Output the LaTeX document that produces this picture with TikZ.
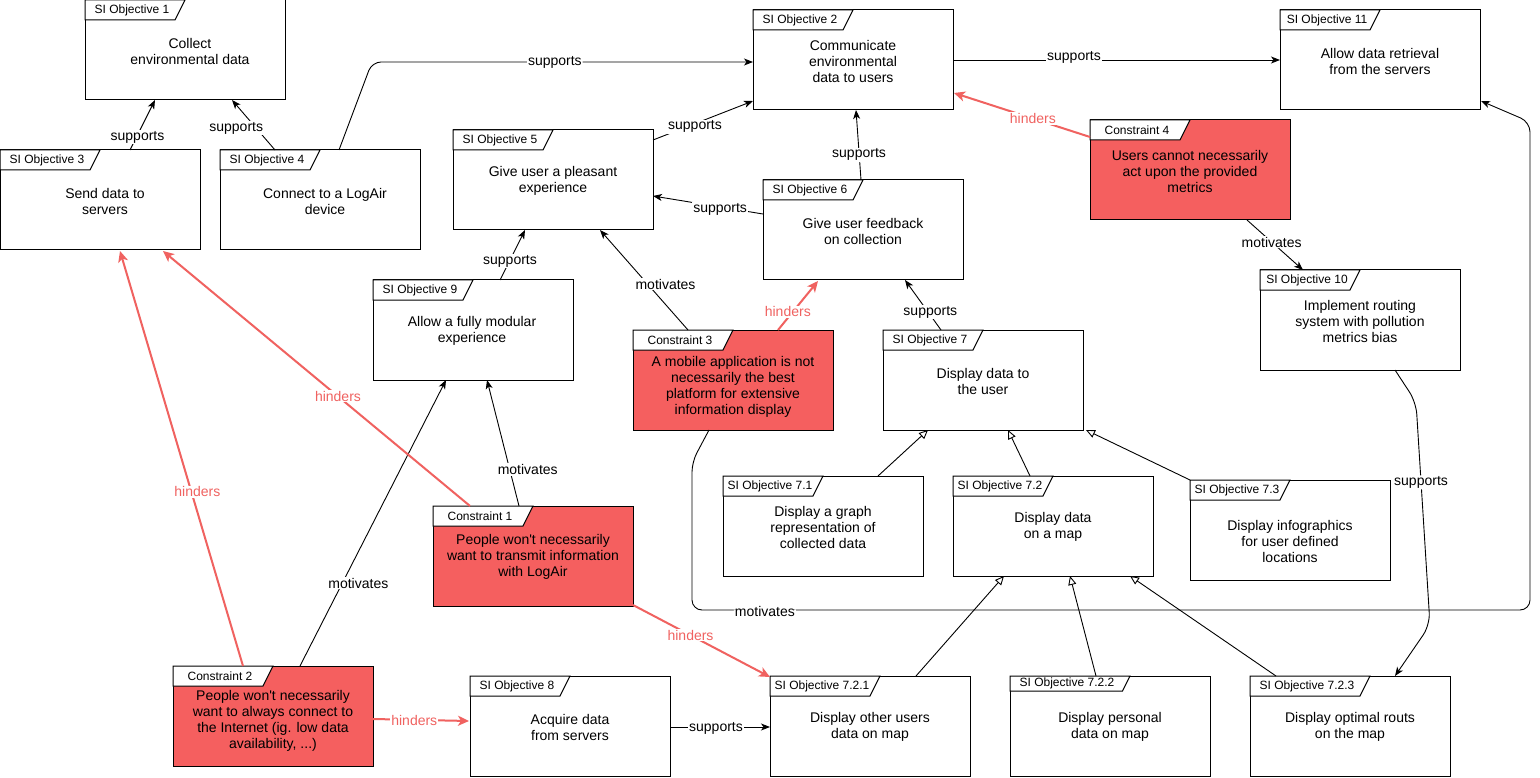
\documentclass[tikz,border=0pt]{standalone}
\usepackage{fontspec}
\setmainfont{Liberation Sans}[Ligatures=TeXOff]
\usetikzlibrary{arrows.meta,calc}
\definecolor{cred}{RGB}{245,95,95}
\definecolor{hred}{RGB}{240,98,96}
\newcommand{\mkbox}[7]{%
  \node[box, fill=#5] (#1) at (#2,#3) {};
  \draw[tabline] (#2,#3) -- ++(#6,0) -- ++(-#7/2,#7) -- (#2,#3+#7) -- cycle;
  \node[tabtxt] (#1-tab) at ($(#1.north west)+(#6/2-3,#7/2)$) {#4};
}
\begin{document}
\begin{tikzpicture}[x=1pt,y=-1pt,
  box/.style={draw, line width=1pt, minimum width=200pt, minimum height=100pt, anchor=north west, inner sep=0pt, outer sep=0pt},
  tabline/.style={draw, line width=1pt, fill=white},
  tabtxt/.style={font=\fontsize{12}{14}\selectfont, inner sep=0pt},
  txt/.style={font=\fontsize{14}{16}\selectfont, align=center, inner sep=0pt},
  lbl/.style={font=\fontsize{14}{16}\selectfont, fill=white, inner sep=1pt},
  rlbl/.style={lbl, text=hred},
  sup/.style={draw, line width=0.9pt, -{Stealth[length=9pt,width=7pt,inset=2.5pt]}},
  hin/.style={draw=hred, line width=2pt, -{Stealth[length=11pt,width=10pt,inset=3pt]}},
  gen/.style={draw, line width=0.9pt, -{Triangle[open,length=9pt,width=8pt,fill=white]}},
]
\useasboundingbox (0,0) rectangle (1540,778);
\fill[white] (0,0) rectangle (1540,778);

% boxes
\mkbox{o1}{85}{0}{SI Objective 1}{white}{100}{20}
\mkbox{o2}{753}{10}{SI Objective 2}{white}{100}{20}
\mkbox{o11}{1280}{10}{SI Objective 11}{white}{100}{20}
\mkbox{o3}{0}{150}{SI Objective 3}{white}{100}{20}
\mkbox{o4}{220}{150}{SI Objective 4}{white}{100}{20}
\mkbox{o5}{453}{130}{SI Objective 5}{white}{100}{20}
\mkbox{o6}{763}{180}{SI Objective 6}{white}{100}{20}
\mkbox{c4}{1090}{120}{Constraint 4}{cred}{100}{20}
\mkbox{o9}{373}{280}{SI Objective 9}{white}{100}{20}
\mkbox{c3}{633}{330}{Constraint 3}{cred}{100}{20}
\mkbox{o7}{883}{330}{SI Objective 7}{white}{100}{20}
\mkbox{o10}{1260}{270}{SI Objective 10}{white}{100}{20}
\mkbox{o71}{723}{476}{SI Objective 7.1}{white}{100}{20}
\mkbox{o72}{953}{476}{SI Objective 7.2}{white}{100}{20}
\mkbox{o73}{1190}{480}{SI Objective 7.3}{white}{100}{20}
\mkbox{c1}{433}{506}{Constraint 1}{cred}{100}{20}
\mkbox{c2}{173}{666}{Constraint 2}{cred}{100}{20}
\mkbox{o8}{470}{676}{SI Objective 8}{white}{100}{20}
\mkbox{o721}{770}{676}{SI Objective 7.2.1}{white}{110}{20}
\mkbox{o722}{1010}{676}{SI Objective 7.2.2}{white}{120}{15}
\mkbox{o723}{1250}{676}{SI Objective 7.2.3}{white}{120}{20}

% texts
\node[txt] (o1t) at ($(o1.north west)+(105,51)$) {Collect\\environmental data};
\node[txt] (o2t) at ($(o2.north west)+(100,51)$) {Communicate\\environmental\\data to users};
\node[txt] (o11t) at ($(o11.north west)+(100,51)$) {Allow data retrieval\\from the servers};
\node[txt] (o3t) at ($(o3.north west)+(105,51)$) {Send data to\\servers};
\node[txt] (o4t) at ($(o4.north west)+(105,51)$) {Connect to a LogAir\\device};
\node[txt] (o5t) at ($(o5.north west)+(100,51)$) {Give user a pleasant\\experience};
\node[txt] (o6t) at ($(o6.north west)+(100,51)$) {Give user feedback\\on collection};
\node[txt] (c4t) at ($(c4.north west)+(100,51)$) {Users cannot necessarily\\act upon the provided\\metrics};
\node[txt] (o9t) at ($(o9.north west)+(99,51)$) {Allow a fully modular\\experience};
\node[txt] (c3t) at ($(c3.north west)+(100,57)$) {A mobile application is not\\necessarily the best\\platform for extensive\\information display};
\node[txt] (o7t) at ($(o7.north west)+(100,51)$) {Display data to\\the user};
\node[txt] (o10t) at ($(o10.north west)+(100,51)$) {Implement routing\\system with pollution\\metrics bias};
\node[txt] (o71t) at ($(o71.north west)+(100,51)$) {Display a graph\\representation of\\collected data};
\node[txt] (o72t) at ($(o72.north west)+(100,51)$) {Display data\\on a map};
\node[txt] (o73t) at ($(o73.north west)+(100,61)$) {Display infographics\\for user defined\\locations};
\node[txt] (c1t) at ($(c1.north west)+(100,51)$) {People won't necessarily\\want to transmit information\\with LogAir};
\node[txt] (c2t) at ($(c2.north west)+(100,55)$) {People won't necessarily\\want to always connect to\\the Internet (ig. low data\\availability, ...)};
\node[txt] (o8t) at ($(o8.north west)+(100,51)$) {Acquire data\\from servers};
\node[txt] (o721t) at ($(o721.north west)+(100,51)$) {Display other users\\data on map};
\node[txt] (o722t) at ($(o722.north west)+(100,51)$) {Display personal\\data on map};
\node[txt] (o723t) at ($(o723.north west)+(100,51)$) {Display optimal routs\\on the map};

% supports
\draw[sup] ($(o3.north west)+(130,0)$) -- node[lbl,pos=0.3,yshift=-2pt]{supports} ($(o1.north west)+(70,100)$);
\draw[sup] ($(o4.north west)+(55,0)$) -- node[lbl,pos=0.46,xshift=-19pt,yshift=-1pt]{supports} ($(o1.north west)+(147,100)$);
\draw[sup, rounded corners=9pt] ($(o4.north west)+(119,0)$) -- ($(o4.north west)+(152,-88)$) -- node[lbl,pos=0.48]{supports} ($(o2.north west)+(0,52)$);
\draw[sup] ($(o5.north west)+(200,10)$) -- node[lbl,pos=0.42,yshift=-3pt]{supports} ($(o2.north west)+(0,91)$);
\draw[sup] ($(o6.north west)+(0,34)$) -- node[lbl,pos=0.39,yshift=-2pt]{supports} ($(o5.north west)+(200,66)$);
\draw[sup] ($(o2.north west)+(200,50)$) -- node[lbl,pos=0.37,yshift=3pt]{supports} ($(o11.north west)+(0,50)$);
\draw[sup] ($(o6.north west)+(98,0)$) -- node[lbl,pos=0.39,yshift=-2pt]{supports} ($(o2.north west)+(103,100)$);
\draw[sup] ($(o9.north west)+(127,0)$) -- node[lbl,pos=0.4,yshift=-1pt]{supports} ($(o5.north west)+(72,100)$);
\draw[sup] ($(o7.north west)+(58,0)$) -- node[lbl,pos=0.38,xshift=3pt,yshift=-1pt]{supports} ($(o6.north west)+(142,100)$);
\draw[sup] ($(o8.north west)+(200,51)$) -- node[lbl,pos=0.46,yshift=-1pt]{supports} ($(o721.north west)+(0,51)$);
\draw[sup, rounded corners=12pt] ($(o10.north west)+(135,100)$) -- ($(o10.north west)+(156,132)$) -- node[lbl,pos=0.36]{supports} ($(o10.north west)+(170,355)$) -- ($(o723.north west)+(145,0)$);

% motivates
\draw[sup] ($(c4.north west)+(157,100)$) -- node[lbl,pos=0.44]{motivates} ($(o10.north west)+(43,0)$);
\draw[sup] ($(c3.north west)+(55,0)$) -- node[lbl,pos=0.46,xshift=18pt]{motivates} ($(o5.north west)+(147,100)$);
\draw[sup] ($(c2.north west)+(127,0)$) -- node[lbl,pos=0.29,xshift=16pt]{motivates} ($(o9.north west)+(73,100)$);
\draw[sup] ($(c1.north west)+(86,0)$) -- node[lbl,pos=0.29,xshift=18pt]{motivates} ($(o9.north west)+(114,100)$);
\draw[sup, rounded corners=10pt] ($(c3.north west)+(76,100)$) -- ($(c3.north west)+(59,132)$) -- ($(c3.north west)+(59,280)$) -- node[lbl,pos=0.087,yshift=-1pt]{motivates} ($(o11.north west)+(250,600)$) -- ($(o11.north west)+(250,112)$) -- ($(o11.north west)+(201,91)$);

% hinders
\draw[hin] ($(c4.north west)+(0,17)$) -- node[rlbl,pos=0.42]{hinders} ($(o2.north west)+(201,83)$);
\draw[hin] ($(c3.north west)+(145,0)$) -- node[rlbl,pos=0.37,xshift=-5pt]{hinders} ($(o6.north west)+(55,101)$);
\draw[hin] ($(c1.north west)+(37,0)$) -- node[rlbl,pos=0.43]{hinders} ($(o3.north west)+(163,101)$);
\draw[hin] ($(c2.north west)+(70,0)$) -- node[rlbl,pos=0.42,xshift=6pt]{hinders} ($(o3.north west)+(120,101)$);
\draw[hin] ($(c2.north west)+(200,53)$) -- node[rlbl,pos=0.43,yshift=-1pt]{hinders} ($(o8.north west)+(-1,45)$);
\draw[hin] ($(c1.north west)+(200,99)$) -- node[rlbl,pos=0.42]{hinders} ($(o721.north west)+(0,1)$);

% generalisation
\draw[gen] ($(o71.north west)+(155,0)$) -- ($(o7.north west)+(45,100)$);
\draw[gen] ($(o72.north west)+(77,0)$) -- ($(o7.north west)+(125,100)$);
\draw[gen] ($(o73.north west)+(0,0)$) -- ($(o7.north west)+(203,100)$);
\draw[gen] ($(o721.north west)+(146,0)$) -- ($(o72.north west)+(51,100)$);
\draw[gen] ($(o722.north west)+(86,0)$) -- ($(o72.north west)+(117,100)$);
\draw[gen] ($(o723.north west)+(26,0)$) -- ($(o72.north west)+(177,100)$);
\end{tikzpicture}
\end{document}
